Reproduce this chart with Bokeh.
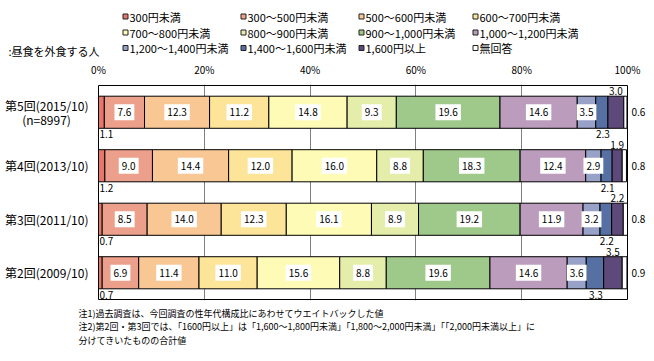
from bokeh.plotting import figure
from bokeh.layouts import column
from bokeh.models import (ColumnDataSource, Range1d, FixedTicker, PrintfTickFormatter)
from bokeh.core.properties import value
from bokeh.embed import file_html
from bokeh.resources import INLINE

FONT = "Noto Sans CJK JP"

surveys = ["第5回(2015/10)", "第4回(2013/10)", "第3回(2011/10)", "第2回(2009/10)"]
sample_note = "(n=8997)"
bands = ["300円未満", "300～500円未満", "500～600円未満", "600～700円未満",
         "700～800円未満", "800～900円未満", "900～1,000円未満", "1,000～1,200円未満",
         "1,200～1,400円未満", "1,400～1,600円未満", "1,600円以上", "無回答"]
r5 = [1.1, 7.6, 12.3, 11.2, 14.8, 9.3, 19.6, 14.6, 3.5, 2.3, 3.0, 0.6]
r4 = [1.2, 9.0, 14.4, 12.0, 16.0, 8.8, 18.3, 12.4, 2.9, 2.1, 1.9, 0.8]
r3 = [0.7, 8.5, 14.0, 12.3, 16.1, 8.9, 19.2, 11.9, 3.2, 2.2, 2.2, 0.8]
r2 = [0.7, 6.9, 11.4, 11.0, 15.6, 8.8, 19.6, 14.6, 3.6, 3.3, 3.5, 0.9]
x_ticks = [0, 20, 40, 60, 80, 100]
series_title = ":昼食を外食する人"
notes = [
    "注1)過去調査は、今回調査の性年代構成比にあわせてウエイトバックした値",
    "注2)第2回・第3回では、「1600円以上」は「1,600～1,800円未満」「1,800～2,000円未満」「「2,000円未満以上」に",
    "分けてきいたものの合計値",
]
colors = ["#E8766A", "#EC9F8A", "#F8C794", "#FCE498", "#FEFBB6", "#E4EEAA",
          "#9FC98A", "#BB9CBC", "#98A1C8", "#5670A4", "#5E4A7A", "#FFFFFF"]

rows = [r5, r4, r3, r2]
n = len(surveys)
ypos = [n - i - 0.5 for i in range(n)]
bar_h = 0.6

# page geometry (pixels)
W = 654
PLOT_L, PLOT_R = 98, 627          # plot-area left/right edge on page
BAND_PX = 54                      # height of one survey band
top_h = 58
main_top_border = 24
main_frame_h = n * BAND_PX + 2
main_h = main_top_border + main_frame_h + 1
bot_h = 361 - top_h - main_h

pxu = (PLOT_R - PLOT_L) / (x_ticks[-1] - x_ticks[0])
x_start = x_ticks[0] - PLOT_L / pxu
x_end = x_ticks[-1] + (W - PLOT_R) / pxu
pad_y = 1 / BAND_PX

# ---------------- main chart ----------------
data = {"y": ypos}
keys = []
for j in range(len(bands)):
    k = f"b{j}"
    keys.append(k)
    data[k] = [r[j] for r in rows]
src = ColumnDataSource(data)

p = figure(width=W, height=main_h, x_range=Range1d(x_start, x_end),
           y_range=Range1d(-pad_y, n + pad_y),
           x_axis_location="above", y_axis_location=None,
           output_backend="svg", toolbar_location=None,
           min_border_left=0, min_border_right=0,
           min_border_top=main_top_border, min_border_bottom=1)
p.background_fill_color = "white"
p.border_fill_color = "white"
p.outline_line_color = None

xa = p.xaxis[0]
xa.ticker = FixedTicker(ticks=x_ticks)
xa.formatter = PrintfTickFormatter(format="%d%%")
xa.major_tick_out = 0
xa.major_tick_in = 0
xa.minor_tick_out = 0
xa.minor_tick_in = 0
xa.axis_line_color = None
xa.major_label_standoff = 8
xa.major_label_text_font = FONT
xa.major_label_text_font_size = "10px"
xa.major_label_text_color = "black"
p.xgrid.ticker = FixedTicker(ticks=x_ticks[1:-1])
p.xgrid.grid_line_color = "#808080"
p.ygrid.visible = False

rends = p.hbar_stack(keys, y="y", height=bar_h, fill_color=colors, line_color="black",
                     line_width=1, source=src)

# plot-area box
p.quad(left=[x_ticks[0]], right=[x_ticks[-1]], bottom=[0], top=[n],
       fill_color=None, line_color="black", line_width=1)

# value labels
ins = {"x": [], "y": [], "t": []}
below = {"x": [], "y": [], "t": [], "a": []}
above = {"x": [], "y": [], "t": []}
right = {"x": [], "y": [], "t": []}
for i, r in enumerate(rows):
    left = 0.0
    for j, v in enumerate(r):
        mid = left + v / 2
        txt = f"{v:.1f}"
        if j == 0:
            below["x"].append(left); below["y"].append(ypos[i] - bar_h / 2)
            below["t"].append(txt); below["a"].append("left")
        elif j == 9:
            below["x"].append(mid); below["y"].append(ypos[i] - bar_h / 2)
            below["t"].append(txt); below["a"].append("center")
        elif j == 10:
            above["x"].append(mid); above["y"].append(ypos[i] + bar_h / 2)
            above["t"].append(txt)
        elif j == 11:
            right["x"].append(x_ticks[-1]); right["y"].append(ypos[i]); right["t"].append(txt)
        else:
            ins["x"].append(mid); ins["y"].append(ypos[i]); ins["t"].append(txt)
        left += v

p.text(x="x", y="y", text="t", source=ColumnDataSource(ins), text_font=value(FONT),
       text_font_size="10px", text_align="center", text_baseline="middle",
       text_color="black", background_fill_color="white", padding=(3, 4))
p.text(x="x", y="y", text="t", source=ColumnDataSource(below), text_font=value(FONT),
       text_font_size="10px", text_align="a", text_baseline="top", y_offset=2,
       x_offset=1, text_color="black")
p.text(x="x", y="y", text="t", source=ColumnDataSource(above), text_font=value(FONT),
       text_font_size="10px", text_align="center", text_baseline="bottom", y_offset=-1,
       text_color="black")
p.text(x="x", y="y", text="t", source=ColumnDataSource(right), text_font=value(FONT),
       text_font_size="10px", text_align="left", text_baseline="middle", x_offset=4,
       text_color="black")

# survey (category) labels
cat = {"x": [x_ticks[0]] * n, "y": ypos, "t": list(surveys), "dy": [0] * n}
cat["dy"][0] = -7
p.text(x="x", y="y", text="t", y_offset="dy", source=ColumnDataSource(cat),
       x_offset=-10, text_font=value(FONT), text_font_size="12px", text_align="right",
       text_baseline="middle", text_color="black")
p.text(x=[x_ticks[0]], y=[ypos[0]], text=[sample_note], x_offset=-52, y_offset=7,
       text_font=value(FONT), text_font_size="12px", text_align="center",
       text_baseline="middle", text_color="black")

# ---------------- top: legend ----------------
top = figure(width=W, height=top_h, x_range=Range1d(0, W), y_range=Range1d(top_h, 0),
             x_axis_location=None, y_axis_location=None, output_backend="svg",
             toolbar_location=None, min_border=0)
top.outline_line_color = None
top.background_fill_color = "white"
top.border_fill_color = "white"
top.xgrid.visible = False
top.ygrid.visible = False
col_x = [125, 243, 361, 475]
row_y = [16, 32, 47.5]
lg = {"x": [], "y": [], "c": [], "t": []}
for r in range(3):
    for c in range(4):
        idx = 4 * r + c
        lg["x"].append(col_x[c]); lg["y"].append(row_y[r])
        lg["c"].append(colors[idx]); lg["t"].append(bands[idx])
lsrc = ColumnDataSource(lg)
top.rect(x="x", y="y", width=5, height=5, fill_color="c", line_color="#222222",
         line_width=1, source=lsrc)
top.text(x="x", y="y", text="t", x_offset=4, source=lsrc, text_font=value(FONT),
         text_font_size="11px", text_align="left", text_baseline="middle",
         text_color="black")
top.text(x=[8], y=[50.5], text=[series_title], text_font=value(FONT),
         text_font_size="11px", text_align="left", text_baseline="middle",
         text_color="black")

# ---------------- bottom: notes ----------------
bot = figure(width=W, height=bot_h, x_range=Range1d(0, W), y_range=Range1d(bot_h, 0),
             x_axis_location=None, y_axis_location=None, output_backend="svg",
             toolbar_location=None, min_border=0)
bot.outline_line_color = None
bot.background_fill_color = "white"
bot.border_fill_color = "white"
bot.xgrid.visible = False
bot.ygrid.visible = False
note_y0 = 312.5 - (top_h + main_h)
bot.text(x=[78] * len(notes), y=[note_y0 + 13.5 * k for k in range(len(notes))],
         text=notes, text_font=value(FONT), text_font_size="9px", text_align="left",
         text_baseline="middle", text_color="black")

layout = column(top, p, bot, spacing=0)
open("out.html", "w").write(file_html(layout, INLINE))
